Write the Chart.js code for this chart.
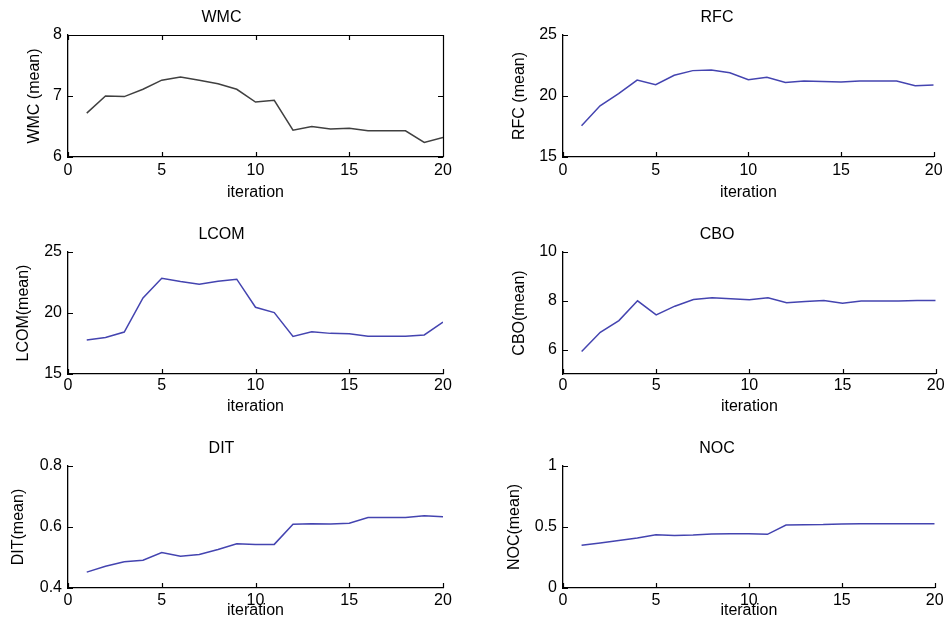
<!DOCTYPE html>
<html>
<head>
<meta charset="utf-8">
<script src="https://cdn.jsdelivr.net/npm/chart.js@4"></script>
<style>
  body { margin: 0; background: #fff; }
  #wrap { position: relative; width: 947px; height: 634px; overflow: hidden; }
  canvas { position: absolute; }
</style>
</head>
<body>
<div id="wrap">
  <canvas id="wmc" width="470" height="203" style="left:0;top:0"></canvas>
  <canvas id="rfc" width="452" height="203" style="left:495px;top:0"></canvas>
  <canvas id="lcom" width="470" height="203" style="left:0;top:217px"></canvas>
  <canvas id="cbo" width="452" height="203" style="left:495px;top:217px"></canvas>
  <canvas id="dit" width="470" height="203" style="left:0;top:431px"></canvas>
  <canvas id="noc" width="452" height="203" style="left:495px;top:431px"></canvas>
</div>
<script>
// data
const iterations = [1, 2, 3, 4, 5, 6, 7, 8, 9, 10, 11, 12, 13, 14, 15, 16, 17, 18, 19, 20];
const wmcMean = [6.72, 7.0, 6.99, 7.11, 7.26, 7.31, 7.26, 7.2, 7.11, 6.9, 6.93, 6.44, 6.5, 6.46, 6.47, 6.43, 6.43, 6.43, 6.24, 6.32];
const rfcMean = [17.56, 19.2, 20.2, 21.3, 20.93, 21.7, 22.08, 22.14, 21.9, 21.34, 21.53, 21.1, 21.23, 21.18, 21.15, 21.23, 21.23, 21.23, 20.85, 20.9];
const lcomMean = [17.78, 18.0, 18.44, 21.23, 22.85, 22.58, 22.36, 22.6, 22.77, 20.47, 20.03, 18.08, 18.47, 18.33, 18.3, 18.1, 18.1, 18.1, 18.2, 19.26];
const cboMean = [5.92, 6.71, 7.19, 8.0, 7.42, 7.78, 8.05, 8.12, 8.08, 8.04, 8.12, 7.92, 7.97, 8.01, 7.9, 7.99, 7.99, 7.99, 8.01, 8.01];
const ditMean = [0.452, 0.471, 0.486, 0.491, 0.516, 0.504, 0.51, 0.526, 0.545, 0.543, 0.543, 0.609, 0.611, 0.61, 0.612, 0.631, 0.631, 0.631, 0.637, 0.634];
const nocMean = [0.35, 0.369, 0.39, 0.41, 0.437, 0.43, 0.434, 0.443, 0.445, 0.445, 0.44, 0.516, 0.519, 0.52, 0.525, 0.527, 0.527, 0.527, 0.527, 0.527];

// ticks
const xTicks = [0, 5, 10, 15, 20];
const xTickLabels = ['0', '5', '10', '15', '20'];
const wmcTicks = [6, 7, 8];
const wmcTickLabels = ['6', '7', '8'];
const rfcTicks = [15, 20, 25];
const rfcTickLabels = ['15', '20', '25'];
const lcomTicks = [15, 20, 25];
const lcomTickLabels = ['15', '20', '25'];
const cboTicks = [6, 8, 10];
const cboTickLabels = ['6', '8', '10'];
const ditTicks = [0.4, 0.6, 0.8];
const ditTickLabels = ['0.4', '0.6', '0.8'];
const nocTicks = [0, 0.5, 1];
const nocTickLabels = ['0', '0.5', '1'];

const FONT = "'Liberation Sans', Arial, sans-serif";

// MATLAB style ticks pointing into the plot
const innerTicks = {
  id: 'innerTicks',
  afterDatasetsDraw(chart, args, opts) {
    const { ctx, chartArea: a, scales: { x, y } } = chart;
    const len = 5;
    ctx.save();
    ctx.strokeStyle = '#000';
    ctx.lineWidth = 1.2;
    ctx.beginPath();
    x.ticks.forEach((t) => {
      const px = Math.round(x.getPixelForValue(t.value)) + 0.5;
      ctx.moveTo(px, a.bottom);
      ctx.lineTo(px, a.bottom - len);
      if (opts.box) {
        ctx.moveTo(px, a.top);
        ctx.lineTo(px, a.top + len);
      }
    });
    y.ticks.forEach((t) => {
      const py = Math.round(y.getPixelForValue(t.value)) + 0.5;
      ctx.moveTo(a.left, py);
      ctx.lineTo(a.left + len, py);
      if (opts.box) {
        ctx.moveTo(a.right, py);
        ctx.lineTo(a.right - len, py);
      }
    });
    if (opts.box) {
      ctx.moveTo(a.left, Math.round(a.top) + 0.5);
      ctx.lineTo(a.right, Math.round(a.top) + 0.5);
      ctx.moveTo(Math.round(a.right) + 0.5, a.top);
      ctx.lineTo(Math.round(a.right) + 0.5, a.bottom);
    }
    ctx.stroke();
    ctx.restore();
  }
};

function panel(id, title, yLabel, values, yMin, yMax, yTicks, yTickLabels, color, box, yTitlePad, xTickPad, xTitlePad, padRight) {
  new Chart(document.getElementById(id), {
    type: 'line',
    data: {
      datasets: [
        {
          data: iterations.map((it, i) => ({ x: it, y: values[i] })),
          borderColor: color,
          borderWidth: 1.5,
          pointRadius: 0,
          tension: 0,
          fill: false,
        },
      ],
    },
    options: {
      responsive: false,
      animation: false,
      events: [],
      layout: { padding: { left: 0, right: padRight, top: 0, bottom: 0 } },
      plugins: {
        legend: { display: false },
        tooltip: { enabled: false },
        title: {
          display: true,
          text: title,
          color: '#000',
          font: { family: FONT, size: 16, weight: 'normal' },
          padding: { top: 8.4, bottom: 7.4 },
        },
        innerTicks: { box: box },
      },
      scales: {
        x: {
          type: 'linear',
          min: 0,
          max: 20,
          afterBuildTicks: (s) => { s.ticks = xTicks.map((v) => ({ value: v })); },
          afterFit: (s) => { s.height = 46; },
          grid: { display: false, drawTicks: false },
          border: { display: true, color: '#000', width: 1.3 },
          ticks: {
            color: '#000',
            padding: xTickPad,
            maxRotation: 0,
            font: { family: FONT, size: 16 },
            callback: (v, i) => xTickLabels[i],
          },
          title: {
            display: true,
            text: 'iteration',
            color: '#000',
            font: { family: FONT, size: 16 },
            padding: { top: 0, bottom: xTitlePad },
          },
        },
        y: {
          min: yMin,
          max: yMax,
          afterBuildTicks: (s) => { s.ticks = yTicks.map((v) => ({ value: v })); },
          afterFit: (s) => { s.width = 68; },
          grid: { display: false, drawTicks: false },
          border: { display: true, color: '#000', width: 1.3 },
          ticks: {
            color: '#000',
            padding: 6,
            font: { family: FONT, size: 16 },
            callback: (v, i) => yTickLabels[i],
          },
          title: {
            display: true,
            text: yLabel,
            color: '#000',
            font: { family: FONT, size: 16 },
            padding: { top: yTitlePad, bottom: 0 },
          },
        },
      },
    },
    plugins: [innerTicks],
  });
}

const grey = '#404040';
const blue = '#4444b0';

panel('wmc', 'WMC', 'WMC (mean)', wmcMean, 6, 8, wmcTicks, wmcTickLabels, grey, true, 25.4, 4.4, 0.4, 27);
panel('rfc', 'RFC', 'RFC (mean)', rfcMean, 15, 25, rfcTicks, rfcTickLabels, blue, false, 14.9, 4.4, 0.4, 8);
panel('lcom', 'LCOM', 'LCOM(mean)', lcomMean, 15, 25, lcomTicks, lcomTickLabels, blue, false, 13.9, 2.4, 3.4, 27);
panel('cbo', 'CBO', 'CBO(mean)', cboMean, 5, 10, cboTicks, cboTickLabels, blue, false, 14.9, 2.4, 3.4, 8);
panel('dit', 'DIT', 'DIT(mean)', ditMean, 0.4, 0.8, ditTicks, ditTickLabels, blue, false, 8.9, 3.4, 13.4, 27);
panel('noc', 'NOC', 'NOC(mean)', nocMean, 0, 1, nocTicks, nocTickLabels, blue, false, 9.9, 3.4, 13.4, 8);
</script>
</body>
</html>
